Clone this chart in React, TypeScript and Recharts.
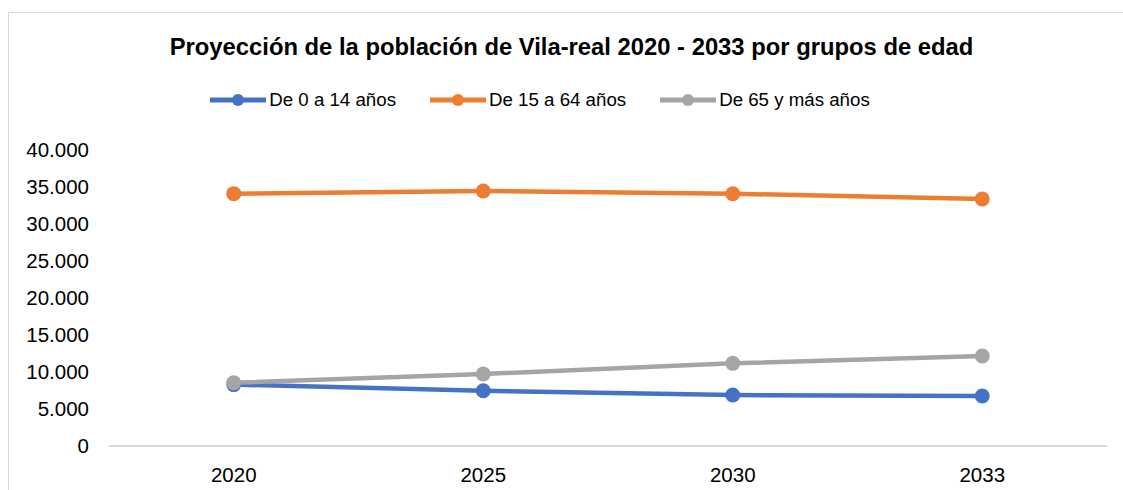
import React from 'react'
import { LineChart, Line, XAxis, YAxis, Legend } from 'recharts'

const years = ['2020', '2025', '2030', '2033']
const young = [8300, 7470, 6890, 6760]
const adults = [34100, 34460, 34090, 33380]
const elderly = [8550, 9730, 11170, 12160]
const yTicks = [0, 5000, 10000, 15000, 20000, 25000, 30000, 35000, 40000]

const seriesInfo = [
  { key: 'young', name: 'De 0 a 14 años', color: '#4472C4' },
  { key: 'adults', name: 'De 15 a 64 años', color: '#ED7D31' },
  { key: 'elderly', name: 'De 65 y más años', color: '#A5A5A5' },
]

const FONT = '"Liberation Sans", Arial, sans-serif'

// numero con punto de miles (5.000)
const fmt = (v: number) => String(v).replace(/\B(?=(\d{3})+(?!\d))/g, '.')

const chartData = years.map((y, i) => ({
  year: y,
  young: young[i],
  adults: adults[i],
  elderly: elderly[i],
}))

function LegendBox() {
  return (
    <div style={{ height: 30, display: 'flex', justifyContent: 'center', alignItems: 'center', fontFamily: FONT, fontSize: 18.7, color: '#000' }}>
      {seriesInfo.map((s, i) => (
        <div key={s.key} style={{ display: 'flex', alignItems: 'center', marginLeft: i === 0 ? 0 : 34 }}>
          <svg width={56} height={16}>
            <line x1={0} y1={8} x2={56} y2={8} stroke={s.color} strokeWidth={5} strokeLinecap="round" />
            <circle cx={28} cy={8} r={6} fill={s.color} />
          </svg>
          <span style={{ marginLeft: 3 }}>{s.name}</span>
        </div>
      ))}
    </div>
  )
}

export default function App() {
  return (
    <div style={{ position: 'absolute', left: 0, top: 0, width: 1123, height: 490, overflow: 'hidden', background: '#fff' }}>
      <div style={{ position: 'absolute', left: 8, top: 12, width: 1300, height: 700, border: '1.5px solid #d9d9d9' }} />
      <div style={{ position: 'absolute', left: 0, top: 33, width: 1143, textAlign: 'center', fontFamily: FONT, fontWeight: 'bold', fontSize: 23.8, color: '#000', lineHeight: '28px' }}>
        Proyección de la población de Vila-real 2020 - 2033 por grupos de edad
      </div>
      <div style={{ position: 'absolute', left: 0, top: 0 }}>
        <LineChart width={1123} height={490} data={chartData} margin={{ top: 120, right: 16, bottom: 0, left: 0 }}>
          <XAxis
            dataKey="year"
            height={44}
            padding={{ left: 124.75, right: 124.75 }}
            tickLine={false}
            tickSize={0}
            tickMargin={21}
            axisLine={{ stroke: '#d9d9d9', strokeWidth: 2 }}
            tick={{ fill: '#000', fontSize: 20.5, fontFamily: FONT }}
          />
          <YAxis
            width={109}
            domain={[0, 40000]}
            ticks={yTicks}
            interval={0}
            axisLine={false}
            tickLine={false}
            tickSize={0}
            tickMargin={20}
            tickFormatter={fmt}
            tick={{ fill: '#000', fontSize: 20.5, fontFamily: FONT }}
          />
          <Legend verticalAlign="top" content={<LegendBox />} wrapperStyle={{ top: 85, left: 0, width: 1080 }} />
          {seriesInfo.map(s => (
            <Line
              key={s.key}
              dataKey={s.key}
              name={s.name}
              stroke={s.color}
              strokeWidth={4.5}
              dot={{ r: 7.5, fill: s.color, stroke: 'none' }}
              activeDot={false}
              isAnimationActive={false}
            />
          ))}
        </LineChart>
      </div>
    </div>
  )
}
